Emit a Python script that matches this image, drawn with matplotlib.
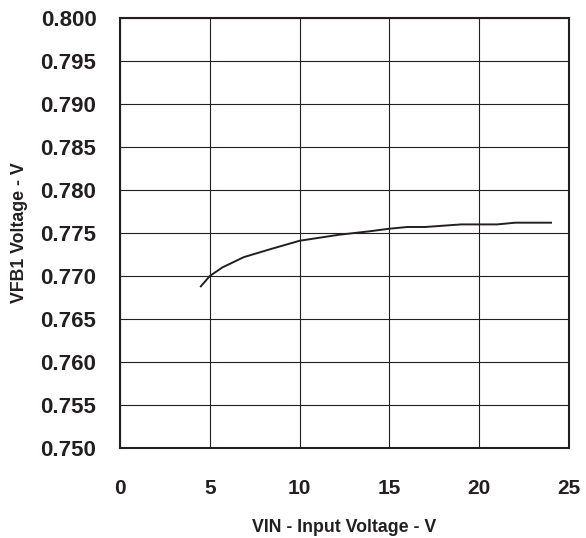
import matplotlib
matplotlib.use("Agg")
import matplotlib.pyplot as plt

# ── data ──────────────────────────────────────────────────────────────────────
vin  = [4.5, 5.0, 5.7, 6.9, 8.5, 10.0, 12.2, 13.9, 15.0, 16.0, 17.0, 19.0, 21.0, 22.0, 24.0]
vfb1 = [0.7688, 0.7700, 0.7710, 0.7722, 0.7732, 0.7741, 0.7748, 0.7752,
        0.7755, 0.7757, 0.7757, 0.7760, 0.7760, 0.7762, 0.7762]

x_ticks = [0, 5, 10, 15, 20, 25]
y_ticks = [0.750, 0.755, 0.760, 0.765, 0.770, 0.775, 0.780, 0.785, 0.790, 0.795, 0.800]

plt.rcParams["font.family"] = ["Liberation Sans", "DejaVu Sans"]

fig = plt.figure(figsize=(5.86, 5.38), dpi=100)
ax = fig.add_axes([0.2048, 0.1673, 0.7662, 0.7992])

ax.plot(vin, vfb1, color="#231f20", linewidth=1.4, zorder=3)

ax.set_xlim(0, 25)
ax.set_ylim(0.750, 0.800)
ax.set_xticks(x_ticks)
ax.set_yticks(y_ticks)
ax.set_xticklabels([str(t) for t in x_ticks], fontsize=15, fontweight="bold")
ax.set_yticklabels([f"{t:.3f}" for t in y_ticks], fontsize=16, fontweight="bold")
ax.tick_params(axis="both", length=0, colors="#231f20")
ax.tick_params(axis="x", pad=22)
ax.tick_params(axis="y", pad=17)

ax.grid(True, color="#231f20", linewidth=0.8)
ax.set_axisbelow(True)
for sp in ax.spines.values():
    sp.set_linewidth(1.5)
    sp.set_color("#231f20")

ax.set_xlabel("VIN - Input Voltage - V", fontsize=12.8, fontweight="bold", color="#231f20")
ax.set_ylabel("VFB1 Voltage - V", fontsize=12.8, fontweight="bold", color="#231f20")
ax.xaxis.set_label_coords(0.5, -0.166)
ax.yaxis.set_label_coords(-0.205, 0.5)

fig.savefig("out.png", dpi=100)
